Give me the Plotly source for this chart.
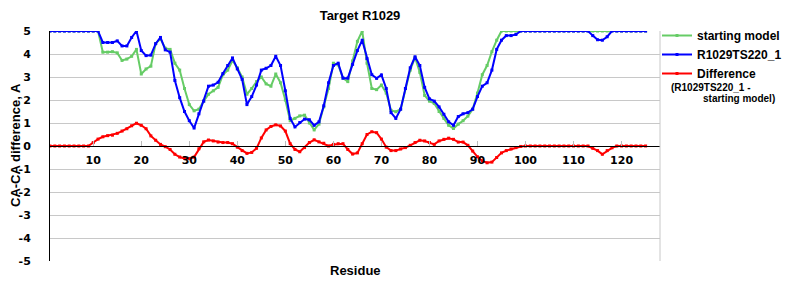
import plotly.graph_objects as go

residues = list(range(1, 126))

starting_model = (
    [5.0] * 11 +
    [4.08, 4.08, 4.1, 4.05, 3.72, 3.78, 3.9, 4.2, 3.13, 3.35, 3.47, 4.45, 4.66, 4.25, 4.2,
     3.6, 3.3, 2.5, 1.8, 1.53, 1.6, 1.95, 2.25, 2.4, 2.55, 3.1, 3.3, 3.72, 3.4, 3.0,
     2.25, 2.5, 2.8, 3.0, 2.7, 2.6, 3.13, 2.75, 2.0, 1.1, 1.2, 1.31, 1.34, 1.0, 0.7,
     0.95, 1.7, 2.5, 3.6, 3.53, 2.95, 2.8, 3.7, 4.55, 5.0, 3.6, 2.5, 2.45, 2.65, 2.3,
     1.55, 1.49, 1.6, 2.5, 3.3, 3.85, 3.2, 2.2, 1.95, 1.85, 1.5, 1.2, 0.9, 0.76, 0.95,
     1.1, 1.3, 1.6, 2.3, 3.1, 3.5, 4.1, 4.6] +
    [5.0] * 31
)

model_220 = (
    [5.0] * 11 +
    [4.5, 4.5, 4.5, 4.57, 4.35, 4.35, 4.72, 5.0, 4.15, 3.93, 3.95, 4.45, 4.72, 4.18, 4.08,
     2.85, 2.1, 1.5, 1.1, 0.78, 1.4, 1.95, 2.6, 2.65, 2.77, 3.15, 3.5, 3.83, 3.35, 2.9,
     1.8, 2.15, 2.65, 3.3, 3.38, 3.5, 3.9, 3.5, 2.4, 1.2, 0.83, 1.02, 1.17, 1.14, 0.9,
     1.05, 1.75, 2.75, 3.5, 3.6, 2.95, 2.95, 3.55, 4.15, 4.6, 3.8, 3.1, 2.94, 3.09, 2.5,
     1.45, 1.2, 1.6, 2.5, 3.4, 3.88, 3.5, 2.55, 2.05, 1.95, 1.7, 1.38, 1.05, 0.9, 1.28,
     1.4, 1.45, 1.6, 2.15, 2.6, 2.75, 3.3, 4.2, 4.6, 4.8, 4.8, 4.85, 5.0] +
    [5.0] * 14 +
    [4.8, 4.62, 4.6, 4.75] +
    [5.0] * 8
)

difference = (
    [0.0] * 9 +
    [0.15, 0.3, 0.4, 0.45, 0.47, 0.55, 0.65, 0.75, 0.88, 0.99, 0.9, 0.75, 0.44, 0.25, 0.07,
     -0.03, -0.15, -0.36, -0.48, -0.54, -0.55, -0.48, -0.12, 0.18, 0.26, 0.22, 0.17, 0.15, 0.15, 0.1,
     -0.05, -0.2, -0.32, -0.28, -0.1, 0.35, 0.7, 0.85, 0.92, 0.87, 0.65, 0.1, -0.15, -0.25, -0.07,
     0.15, 0.27, 0.18, 0.12, 0.0, 0.07, 0.1, 0.1, -0.15, -0.35, -0.3, 0.1, 0.5, 0.62, 0.58,
     0.3, -0.05, -0.2, -0.2, -0.13, -0.07, 0.03, 0.15, 0.25, 0.22, 0.15, 0.07, 0.22, 0.29, 0.34,
     0.29, 0.17, 0.17, 0.03, -0.22, -0.47, -0.65, -0.73, -0.7, -0.5, -0.3, -0.2, -0.13, -0.07, -0.02] +
    [0.0] * 14 +
    [-0.1, -0.2, -0.36, -0.2, -0.08] +
    [0.0] * 7
)

x_ticks = list(range(10, 121, 10))
y_ticks = list(range(-5, 6))
y_tick_labels = [str(v) for v in y_ticks]  # plain hyphen-minus, as in the reference

GREEN = "#66CC66"
BLUE = "#0000FF"
RED = "#FF0000"

fig = go.Figure()
for name, vals, col in [("starting model", starting_model, GREEN),
                        ("R1029TS220_1", model_220, BLUE),
                        ("Difference", difference, RED)]:
    fig.add_trace(go.Scatter(
        x=residues, y=vals, name=name, mode="lines+markers",
        line=dict(color=col, width=2),
        marker=dict(color=col, size=3, symbol="square"),
    ))

L, R, T, B = 50, 140, 31, 39
W, H = 800, 300
pw, ph = W - L - R, H - T - B

def px(X):
    return (X - L) / pw

def py(Y):
    return (H - B - Y) / ph

fig.update_layout(
    width=W, height=H,
    margin=dict(l=L, r=R, t=T, b=B, pad=0),
    paper_bgcolor="white", plot_bgcolor="white",
    font=dict(family="Liberation Sans, Arial, sans-serif", size=12, color="black"),
    title=dict(text="<b>Target R1029</b>", x=360 / W, xanchor="center",
               y=1 - 15 / H, yanchor="middle",
               font=dict(size=13, family="Liberation Sans, Arial, sans-serif")),
    showlegend=True,
    legend=dict(x=px(657), xanchor="left", y=py(21), yanchor="top",
                font=dict(size=12, family="Liberation Sans, Arial, sans-serif", weight="bold"),
                bgcolor="rgba(0,0,0,0)", borderwidth=0, tracegroupgap=0,
                itemwidth=30),
    xaxis=dict(range=[1, 128], tickvals=x_ticks, showgrid=False, zeroline=False,
               showline=True, linecolor="black", linewidth=1,
               anchor="free", position=0.5, automargin=False,
               ticks="inside", ticklen=5, tickcolor="#bbbbbb", tickwidth=1,
               ticklabelstandoff=4,
               tickfont=dict(family="DejaVu Sans", size=11, weight="bold")),
    yaxis=dict(range=[-5, 5], tickvals=y_ticks, ticktext=y_tick_labels,
               showgrid=True, gridcolor="#C8C8C8",
               gridwidth=1, zeroline=False, showline=True, linecolor="black", linewidth=1,
               ticks="", ticklabelstandoff=16, automargin=False,
               tickfont=dict(family="DejaVu Sans", size=11, weight="bold")),
    annotations=[
        dict(text="<b>CA-CA difference, A</b>", x=px(15), y=py(145), xref="paper", yref="paper",
             xanchor="center", yanchor="middle", textangle=-90, showarrow=False,
             font=dict(size=13, family="Liberation Sans, Arial, sans-serif")),
        dict(text="<b>Residue</b>", x=0.5, y=py(270), xref="paper", yref="paper",
             xanchor="center", yanchor="middle", showarrow=False,
             font=dict(size=13, family="Liberation Sans, Arial, sans-serif")),
        dict(text="<b>(R1029TS220_1 -</b>", x=px(669), y=py(87), xref="paper", yref="paper",
             xanchor="left", yanchor="middle", showarrow=False,
             font=dict(size=10, family="Liberation Sans, Arial, sans-serif")),
        dict(text="<b>starting model)</b>", x=px(701), y=py(99), xref="paper", yref="paper",
             xanchor="left", yanchor="middle", showarrow=False,
             font=dict(size=10, family="Liberation Sans, Arial, sans-serif")),
    ],
    shapes=[
        dict(type="line", xref="paper", yref="paper", x0=1, x1=1, y0=0, y1=1,
             line=dict(color="#C8C8C8", width=1)),
    ],
)

fig.write_html("out.html")
